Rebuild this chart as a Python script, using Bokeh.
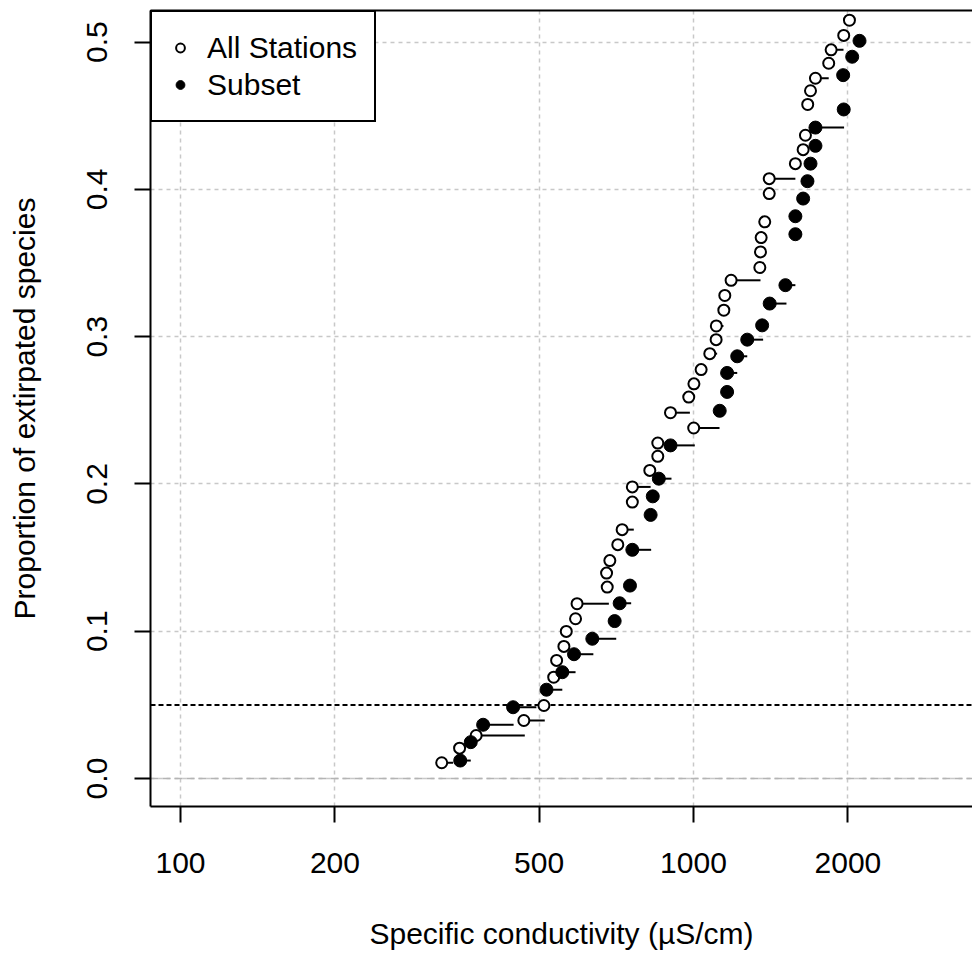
from bokeh.plotting import figure
from bokeh.models import (ColumnDataSource, Span, Legend, LegendItem, FixedTicker,
                          NumeralTickFormatter, LogAxis, Range1d)
from bokeh.embed import file_html
from bokeh.resources import INLINE

# ---- data ----
# All Stations (open circles): conductivity, proportion, segment end
all_x = [323, 350, 377, 467, 511, 534, 541, 559, 565, 589, 593, 679, 677, 687, 712, 726,
         760, 760, 822, 852, 852, 1001, 902, 979, 1002, 1035, 1076, 1107, 1108, 1146, 1151,
         1184, 1347, 1351, 1355, 1377, 1405, 1405, 1580, 1636, 1653, 1670, 1691, 1729,
         1835, 1855, 1963, 2014]
all_y = [0.0107, 0.0206, 0.0292, 0.0394, 0.0496, 0.0688, 0.0802, 0.0897, 0.0999, 0.1085,
         0.1187, 0.1300, 0.1395, 0.1480, 0.1588, 0.1690, 0.1877, 0.1980, 0.2092, 0.2188,
         0.2278, 0.2380, 0.2484, 0.2590, 0.2680, 0.2777, 0.2885, 0.2980, 0.3073, 0.3180,
         0.3280, 0.3383, 0.3470, 0.3576, 0.3673, 0.3780, 0.3972, 0.4073, 0.4175, 0.4270,
         0.4368, 0.4577, 0.4670, 0.4755, 0.4857, 0.4948, 0.5046, 0.5149]
all_xend = [340, 350, 469, 513, 511, 534, 541, 559, 565, 589, 684, 679, 677, 705, 712, 765,
            760, 825, 822, 852, 852, 1124, 984, 979, 1025, 1055, 1112, 1107, 1144, 1146, 1151,
            1351, 1347, 1351, 1355, 1377, 1405, 1580, 1580, 1636, 1653, 1670, 1691, 1835,
            1835, 1961, 1963, 2014]

# Subset (filled circles)
sub_x = [351, 368, 389, 445, 517, 555, 585, 635, 702, 718, 752, 760, 825, 833, 856, 902,
         1125, 1163, 1163, 1217, 1273, 1361, 1408, 1511, 1580, 1580, 1636, 1668, 1691, 1729,
         1729, 1963, 1958, 2039, 2107]
sub_y = [0.0122, 0.0247, 0.0365, 0.0484, 0.0603, 0.0722, 0.0844, 0.0949, 0.1069, 0.1190,
         0.1310, 0.1553, 0.1790, 0.1916, 0.2036, 0.2262, 0.2497, 0.2625, 0.2754, 0.2867,
         0.2980, 0.3077, 0.3225, 0.3350, 0.3696, 0.3818, 0.3938, 0.4056, 0.4175, 0.4296,
         0.4420, 0.4543, 0.4776, 0.4901, 0.5009]
sub_xend = [368, 376, 446, 494, 555, 589, 638, 707, 702, 756, 752, 827, 825, 833, 906, 1006,
            1125, 1163, 1217, 1273, 1367, 1361, 1518, 1580, 1580, 1617, 1636, 1668, 1691,
            1729, 1966, 1963, 1958, 2088, 2107]

x_ticks = [100, 200, 500, 1000, 2000]
y_ticks = [0.0, 0.1, 0.2, 0.3, 0.4, 0.5]
threshold = 0.05

FONT = "Liberation Sans"

p = figure(width=972, height=955, x_axis_type="log",
           x_range=Range1d(87.4, 3499), y_range=Range1d(-0.019, 0.5215),
           output_backend="svg", toolbar_location=None,
           min_border_left=150, min_border_right=0, min_border_top=10, min_border_bottom=149)
p.outline_line_color = None
p.background_fill_color = "white"

# axes
p.xaxis.ticker = FixedTicker(ticks=x_ticks)
p.xaxis.formatter = NumeralTickFormatter(format="0")
p.yaxis.ticker = FixedTicker(ticks=y_ticks)
p.yaxis.formatter = NumeralTickFormatter(format="0.0")
p.yaxis.major_label_orientation = "vertical"
for ax in (p.xaxis[0], p.yaxis[0]):
    ax.axis_line_width = 2
    ax.axis_line_color = "black"
    ax.major_tick_line_width = 2
    ax.major_tick_line_color = "black"
    ax.major_tick_out = 16
    ax.major_tick_in = 0
    ax.minor_tick_line_color = None
    ax.major_label_text_font = FONT
    ax.major_label_text_color = "black"
    ax.axis_label_text_font = FONT
    ax.axis_label_text_font_style = "normal"
    ax.axis_label_text_color = "black"

p.xaxis.major_label_text_font_size = "30px"
p.xaxis.major_label_standoff = 30
p.xaxis.axis_label = "Specific conductivity (µS/cm)"
p.xaxis.axis_label_text_font_size = "30px"
p.xaxis.axis_label_standoff = 41

p.yaxis.major_label_text_font_size = "30px"
p.yaxis.major_label_standoff = 27
p.yaxis.axis_label = "Proportion of extirpated species"
p.yaxis.axis_label_text_font_size = "30px"
p.yaxis.axis_label_standoff = 44

top_axis = LogAxis(ticker=FixedTicker(ticks=[]), axis_line_width=2, axis_line_color="black",
                   major_tick_line_color=None, minor_tick_line_color=None,
                   major_label_text_font_size="0px", major_label_standoff=0)
p.add_layout(top_axis, "above")

# grid
p.xgrid.grid_line_color = "#c8c8c8"
p.xgrid.grid_line_dash = "4 4"
p.xgrid.grid_line_width = 1.5
p.ygrid.grid_line_color = "#c8c8c8"
p.ygrid.grid_line_dash = "4 4"
p.ygrid.grid_line_width = 1.5

p.add_layout(Span(location=0, dimension="width", line_color="#b4b4b4",
                  line_dash="8 4", line_width=1.5, level="underlay"))
p.add_layout(Span(location=threshold, dimension="width", line_color="black",
                  line_dash="5 3", line_width=2, level="underlay"))

src_all = ColumnDataSource(dict(x=all_x, y=all_y, xend=all_xend))
src_sub = ColumnDataSource(dict(x=sub_x, y=sub_y, xend=sub_xend))

p.segment(x0="x", y0="y", x1="xend", y1="y", source=src_all, line_color="black", line_width=2)
p.segment(x0="x", y0="y", x1="xend", y1="y", source=src_sub, line_color="black", line_width=2)

r_all = p.scatter(x="x", y="y", source=src_all, marker="circle", size=11,
                  line_color="black", line_width=2, fill_color="white")
r_sub = p.scatter(x="x", y="y", source=src_sub, marker="circle", size=13,
                  line_color="black", line_width=1, fill_color="black")

legend = Legend(items=[LegendItem(label="All Stations", renderers=[r_all]),
                       LegendItem(label="Subset", renderers=[r_sub])],
                location="top_left", margin=0, padding=17, spacing=0,
                label_height=37, glyph_height=37, glyph_width=22, label_standoff=16,
                label_text_font=FONT, label_text_font_size="30px", label_text_color="black",
                border_line_color="black", border_line_width=2, border_line_alpha=1.0,
                background_fill_color="white", background_fill_alpha=1.0)
p.add_layout(legend)

open("out.html", "w").write(file_html(p, INLINE))
